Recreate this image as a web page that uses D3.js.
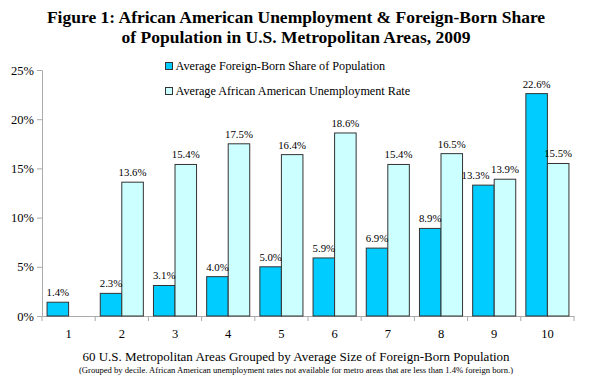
<!DOCTYPE html>
<html><head><meta charset="utf-8">
<script src="https://cdn.jsdelivr.net/npm/d3@7"></script>
<style>body{margin:0;background:#fff}svg{display:block}</style>
</head><body><svg id="c" width="590" height="379"></svg>
<script>
const categories = ["1","2","3","4","5","6","7","8","9","10"];
const foreignBorn = [1.4, 2.3, 3.1, 4.0, 5.0, 5.9, 6.9, 8.9, 13.3, 22.6];
const unemployment = [null, 13.6, 15.4, 17.5, 16.4, 18.6, 15.4, 16.5, 13.9, 15.5];
const yTicks = [0, 5, 10, 15, 20, 25];
const seriesNames = ["Average Foreign-Born Share of Population", "Average African American Unemployment Rate"];
const colors = ["#00CCFF", "#CCFFFF"];

const FONT = "'Liberation Serif', 'Times New Roman', Times, serif";
const svg = d3.select("#c").attr("font-family", FONT);
const m = {l: 42, r: 16, t: 70, b: 63};
const W = 590, H = 379;
const x = d3.scaleBand().domain(categories).range([m.l, W - m.r]).paddingInner(0).paddingOuter(0);
const inner = d3.scaleBand().domain([0, 1]).range([0, x.bandwidth()]).paddingInner(0).paddingOuter(0.235);
const y = d3.scaleLinear().domain([0, 25]).range([H - m.b, m.t]);

function txt(sel) { return sel.append("text").attr("font-family", FONT).attr("fill", "#000"); }

// title
txt(svg).attr("x", 296).attr("y", 23).attr("text-anchor", "middle")
  .attr("font-size", 17.5).attr("font-weight", "bold").text("Figure 1: African American Unemployment & Foreign-Born Share");
txt(svg).attr("x", 296).attr("y", 43).attr("text-anchor", "middle")
  .attr("font-size", 17.5).attr("font-weight", "bold").text("of Population in U.S. Metropolitan Areas, 2009");

// y axis
const ya = svg.append("g").attr("transform", `translate(${m.l},0)`)
  .call(d3.axisLeft(y).tickValues(yTicks).tickFormat(d => d + "%").tickSize(5).tickSizeOuter(0));
ya.attr("font-family", FONT);
ya.select(".domain").attr("stroke", "#aaa");
ya.selectAll(".tick line").attr("stroke", "#aaa");
ya.selectAll(".tick text").attr("font-size", 12.5).attr("font-family", FONT).attr("fill", "#000").attr("x", -8);

// x axis
const xa = svg.append("g").attr("transform", `translate(0,${y(0)})`)
  .call(d3.axisBottom(x).tickSize(0).tickSizeOuter(0));
xa.attr("font-family", FONT);
xa.select(".domain").attr("stroke", "#aaa");
xa.selectAll(".tick text").attr("font-size", 12.5).attr("font-family", FONT).attr("fill", "#000").attr("dy", "1.55em");
const bounds = categories.map(c => x(c)).concat([x(categories[categories.length-1]) + x.bandwidth()]);
svg.append("g").selectAll("line").data(bounds).join("line")
  .attr("x1", d => d).attr("x2", d => d).attr("y1", y(0)).attr("y2", y(0) + 5).attr("stroke", "#aaa");

// bars
const data = [foreignBorn, unemployment];
const barG = svg.append("g");
const labG = svg.append("g");
data.forEach((vals, s) => {
  categories.forEach((c, i) => {
    const v = vals[i];
    if (v == null) return;
    const bx = x(c) + inner(s);
    barG.append("rect").attr("x", bx).attr("y", y(v)).attr("width", inner.bandwidth()).attr("height", y(0) - y(v))
      .attr("fill", colors[s]).attr("stroke", "#333").attr("stroke-width", 1);
    // nudge left-series label left when it would collide with the neighbour's label
    let dx = 0;
    if (s === 0 && unemployment[i] != null && Math.abs(y(v) - y(unemployment[i])) < 12) dx = -8;
    txt(labG).attr("x", bx + inner.bandwidth() / 2 + dx).attr("y", y(v) - 6).attr("text-anchor", "middle")
      .attr("font-size", 10.8).text(v.toFixed(1) + "%");
  });
});

// legend
seriesNames.forEach((n, i) => {
  const ly = 66 + i * 25;
  svg.append("rect").attr("x", 165.5).attr("y", ly - 3.5).attr("width", 7).attr("height", 7)
    .attr("fill", colors[i]).attr("stroke", "#333").attr("stroke-width", 1);
  txt(svg).attr("x", 175.5).attr("y", ly + 4).attr("font-size", 12.2).text(n);
});

// axis labels
txt(svg).attr("x", 296).attr("y", 361).attr("text-anchor", "middle").attr("font-size", 13)
  .text("60 U.S. Metropolitan Areas Grouped by Average Size of Foreign-Born Population");
txt(svg).attr("x", 296).attr("y", 373).attr("text-anchor", "middle").attr("font-size", 8.6)
  .text("(Grouped by decile. African American unemployment rates not available for metro areas that are less than 1.4% foreign born.)");
</script></body></html>
